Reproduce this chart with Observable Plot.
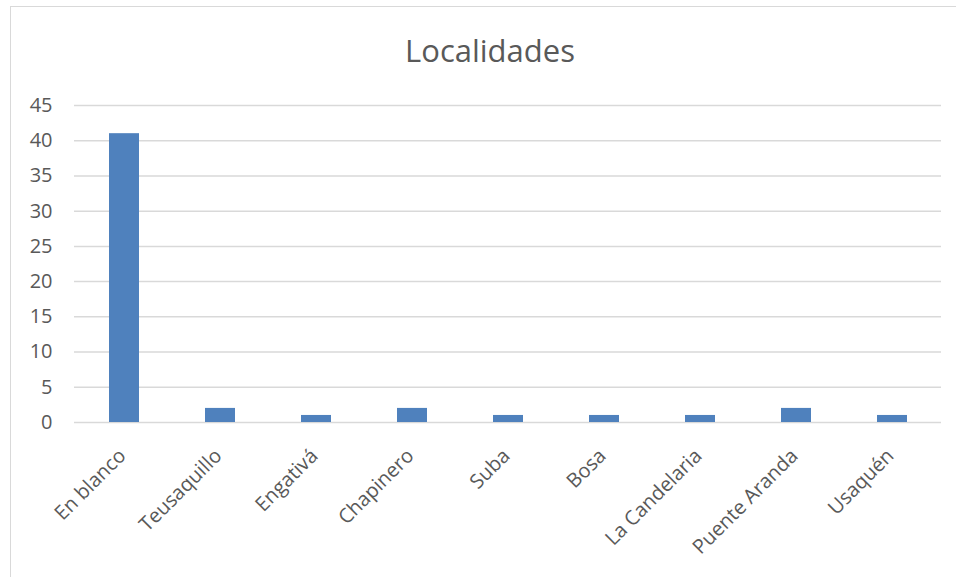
<!DOCTYPE html>
<html>
<head>
<meta charset="utf-8">
<script src="https://cdn.jsdelivr.net/npm/d3@7"></script>
<script src="https://cdn.jsdelivr.net/npm/@observablehq/plot@0.6"></script>
<style>
  html, body { margin: 0; padding: 0; background: #fff; }
  #wrap { position: relative; width: 956px; height: 577px; overflow: hidden; }
  #border { position: absolute; left: 10px; top: 6px; width: 1000px; height: 1000px; border: 1.5px solid #d9d9d9; box-sizing: border-box; }
  #chart { position: absolute; left: 0; top: 0; }
</style>
</head>
<body>
<div id="wrap"><div id="border"></div><div id="chart"></div></div>
<script>
const title = "Localidades";
const categories = ["En blanco", "Teusaquillo", "Engativá", "Chapinero", "Suba", "Bosa", "La Candelaria", "Puente Aranda", "Usaquén"];
const values = [41, 2, 1, 2, 1, 1, 1, 2, 1];
const yTicks = [0, 5, 10, 15, 20, 25, 30, 35, 40, 45];

const data = categories.map((c, i) => ({category: c, value: values[i]}));
const font = "'Open Sans', 'Liberation Sans', sans-serif";

const chart = Plot.plot({
  width: 956,
  height: 577,
  marginLeft: 74,
  marginRight: 15,
  marginTop: 105,
  marginBottom: 155,
  style: {fontFamily: font, fontSize: "20px", color: "#595959", background: "transparent"},
  x: {domain: categories, paddingInner: 0.69, paddingOuter: 0.345, label: null},
  y: {domain: [0, 45], ticks: yTicks, label: null},
  marks: [
    Plot.gridY(yTicks, {stroke: "#d9d9d9", strokeOpacity: 1, strokeWidth: 1.5}),
    Plot.barY(data, {x: "category", y: "value", fill: "#4f81bd"}),
    Plot.axisY(yTicks, {tickSize: 0, tickPadding: 22, fill: "#595959", fontSize: 20}),
    Plot.axisX({tickSize: 0, tickRotate: -45, tickPadding: 30, fill: "#595959", textAnchor: "end", dx: -2, fontSize: 20}),
    Plot.text([title], {frameAnchor: "top", dy: -66, dx: -18, fontSize: 31, fill: "#595959", fontFamily: font})
  ]
});
document.getElementById("chart").appendChild(chart);
</script>
</body>
</html>
